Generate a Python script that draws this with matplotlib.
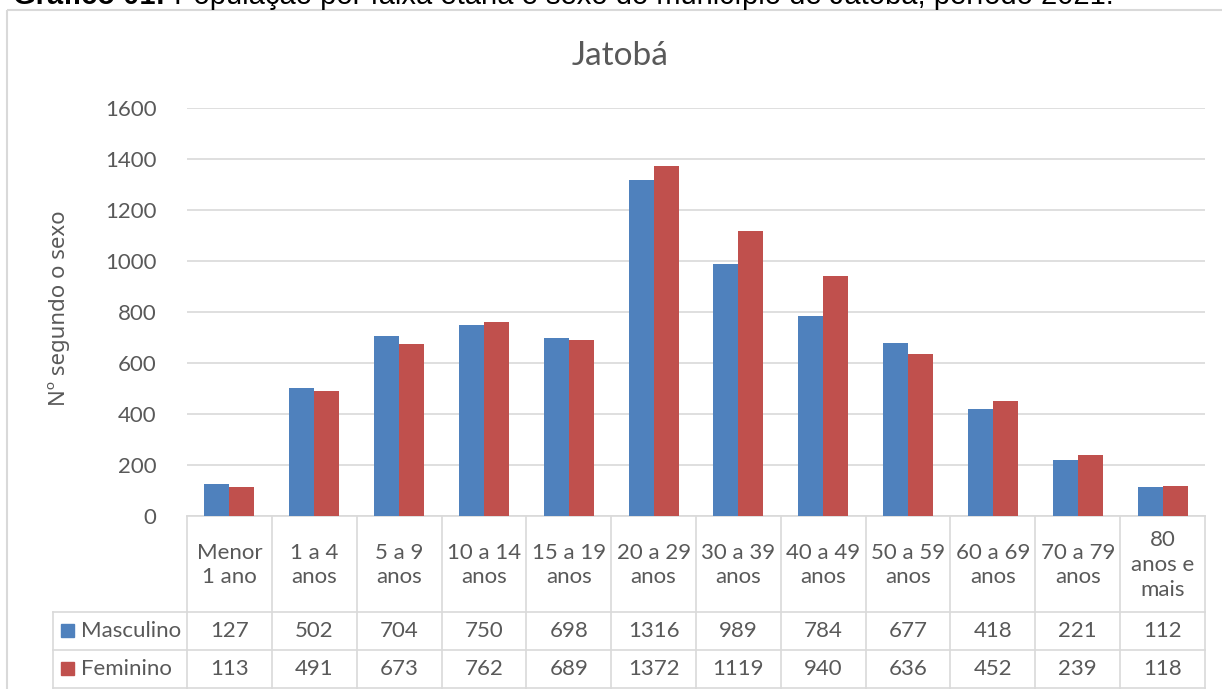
import matplotlib
matplotlib.use("Agg")
import matplotlib.pyplot as plt
import matplotlib.transforms as mtransforms
from matplotlib.patches import Rectangle

plt.rcParams['font.family'] = ['Lato', 'DejaVu Sans']

# data
faixas = ["Menor\n1 ano", "1 a 4\nanos", "5 a 9\nanos", "10 a 14\nanos", "15 a 19\nanos",
          "20 a 29\nanos", "30 a 39\nanos", "40 a 49\nanos", "50 a 59\nanos",
          "60 a 69\nanos", "70 a 79\nanos", "80\nanos e\nmais"]
masculino = [127, 502, 704, 750, 698, 1316, 989, 784, 677, 418, 221, 112]
feminino = [113, 491, 673, 762, 689, 1372, 1119, 940, 636, 452, 239, 118]
series = ["Masculino", "Feminino"]
cores = ["#4F81BD", "#C0504D"]
yticks = [0, 200, 400, 600, 800, 1000, 1200, 1400, 1600]

W, H = 1222, 689
txt = "#595959"
grid_c = "#D9D9D9"
fs = 16

fig = plt.figure(figsize=(W / 100, H / 100), dpi=100)

# overlay in pixel units for borders/table
ov = fig.add_axes([0, 0, 1, 1])
ov.set_xlim(0, W)
ov.set_ylim(H, 0)
ov.axis("off")

# bar axes
x0, x1, ytop, ybot = 187, 1205, 108, 516
ax = fig.add_axes([x0 / W, 1 - ybot / H, (x1 - x0) / W, (ybot - ytop) / H])
n = len(faixas)
idx = list(range(n))
bw = 0.295
ax.bar([i - bw / 2 for i in idx], masculino, width=bw, color=cores[0], zorder=3)
ax.bar([i + bw / 2 for i in idx], feminino, width=bw, color=cores[1], zorder=3)
ax.set_xlim(-0.5, n - 0.5)
ax.set_ylim(0, 1600)
ax.set_yticks(yticks)
ax.set_yticklabels([str(v) for v in yticks], color=txt, fontsize=fs)
ax.tick_params(axis="y", length=0, pad=22)
ax.set_xticks([])
ax.yaxis.grid(True, color=grid_c, linewidth=1.2, zorder=0)
for s in ["top", "right", "left"]:
    ax.spines[s].set_visible(False)
ax.spines["bottom"].set_color(grid_c)
ax.spines["bottom"].set_linewidth(1.2)

# outer chart border (cut off at right and bottom)
ov.add_patch(Rectangle((7, 10), W, H, fill=False, edgecolor=grid_c, linewidth=1.5))

# caption above the chart, mostly clipped like in the source image
cap_font = ['Liberation Sans', 'DejaVu Sans']
t1 = ov.text(13, 4, "Gráfico 01:", fontsize=21, fontweight="bold", color="black",
             ha="left", va="baseline", family=cap_font)
r = fig.canvas.get_renderer()
bb = t1.get_window_extent(renderer=r)
ov.text(bb.x1 + 1, 4, " População por faixa etária e sexo do município de Jatobá, período 2021.",
        fontsize=21, color="black", ha="left", va="baseline", family=cap_font)

ov.text(620, 56, "Jatobá", fontsize=24, color=txt, ha="center", va="center")
ov.text(59, 308, "Nº segundo o sexo", fontsize=fs, color=txt, rotation=90,
        ha="center", va="center", family=['Noto Sans', 'DejaVu Sans'])

# data table
tr = mtransforms.blended_transform_factory(ax.transData, ov.transData)
row_y = [ybot, 612, 650, 688]
left = 53
for i in range(n + 1):
    ov.plot([i - 0.5, i - 0.5], [ybot, row_y[-1]], color=grid_c, lw=1.2, transform=tr)
ov.plot([left, left], [row_y[1], row_y[-1]], color=grid_c, lw=1.2)
for y in row_y[1:]:
    ov.plot([left, x0], [y, y], color=grid_c, lw=1.2)
    ov.plot([-0.5, n - 0.5], [y, y], color=grid_c, lw=1.2, transform=tr)

for i, lab in enumerate(faixas):
    ov.text(i, (row_y[0] + row_y[1]) / 2 + 1, lab, transform=tr, ha="center", va="center",
            fontsize=fs, color=txt, linespacing=1.3)
for k, (nome, vals, c) in enumerate(zip(series, [masculino, feminino], cores)):
    yc = (row_y[k + 1] + row_y[k + 2]) / 2
    ov.add_patch(Rectangle((61, yc - 7), 13, 13, color=c))
    ov.text(81, yc, nome, ha="left", va="center", fontsize=fs, color=txt)
    for i, v in enumerate(vals):
        ov.text(i, yc, str(v), transform=tr, ha="center", va="center", fontsize=fs, color=txt)

fig.savefig("out.png", dpi=100)
